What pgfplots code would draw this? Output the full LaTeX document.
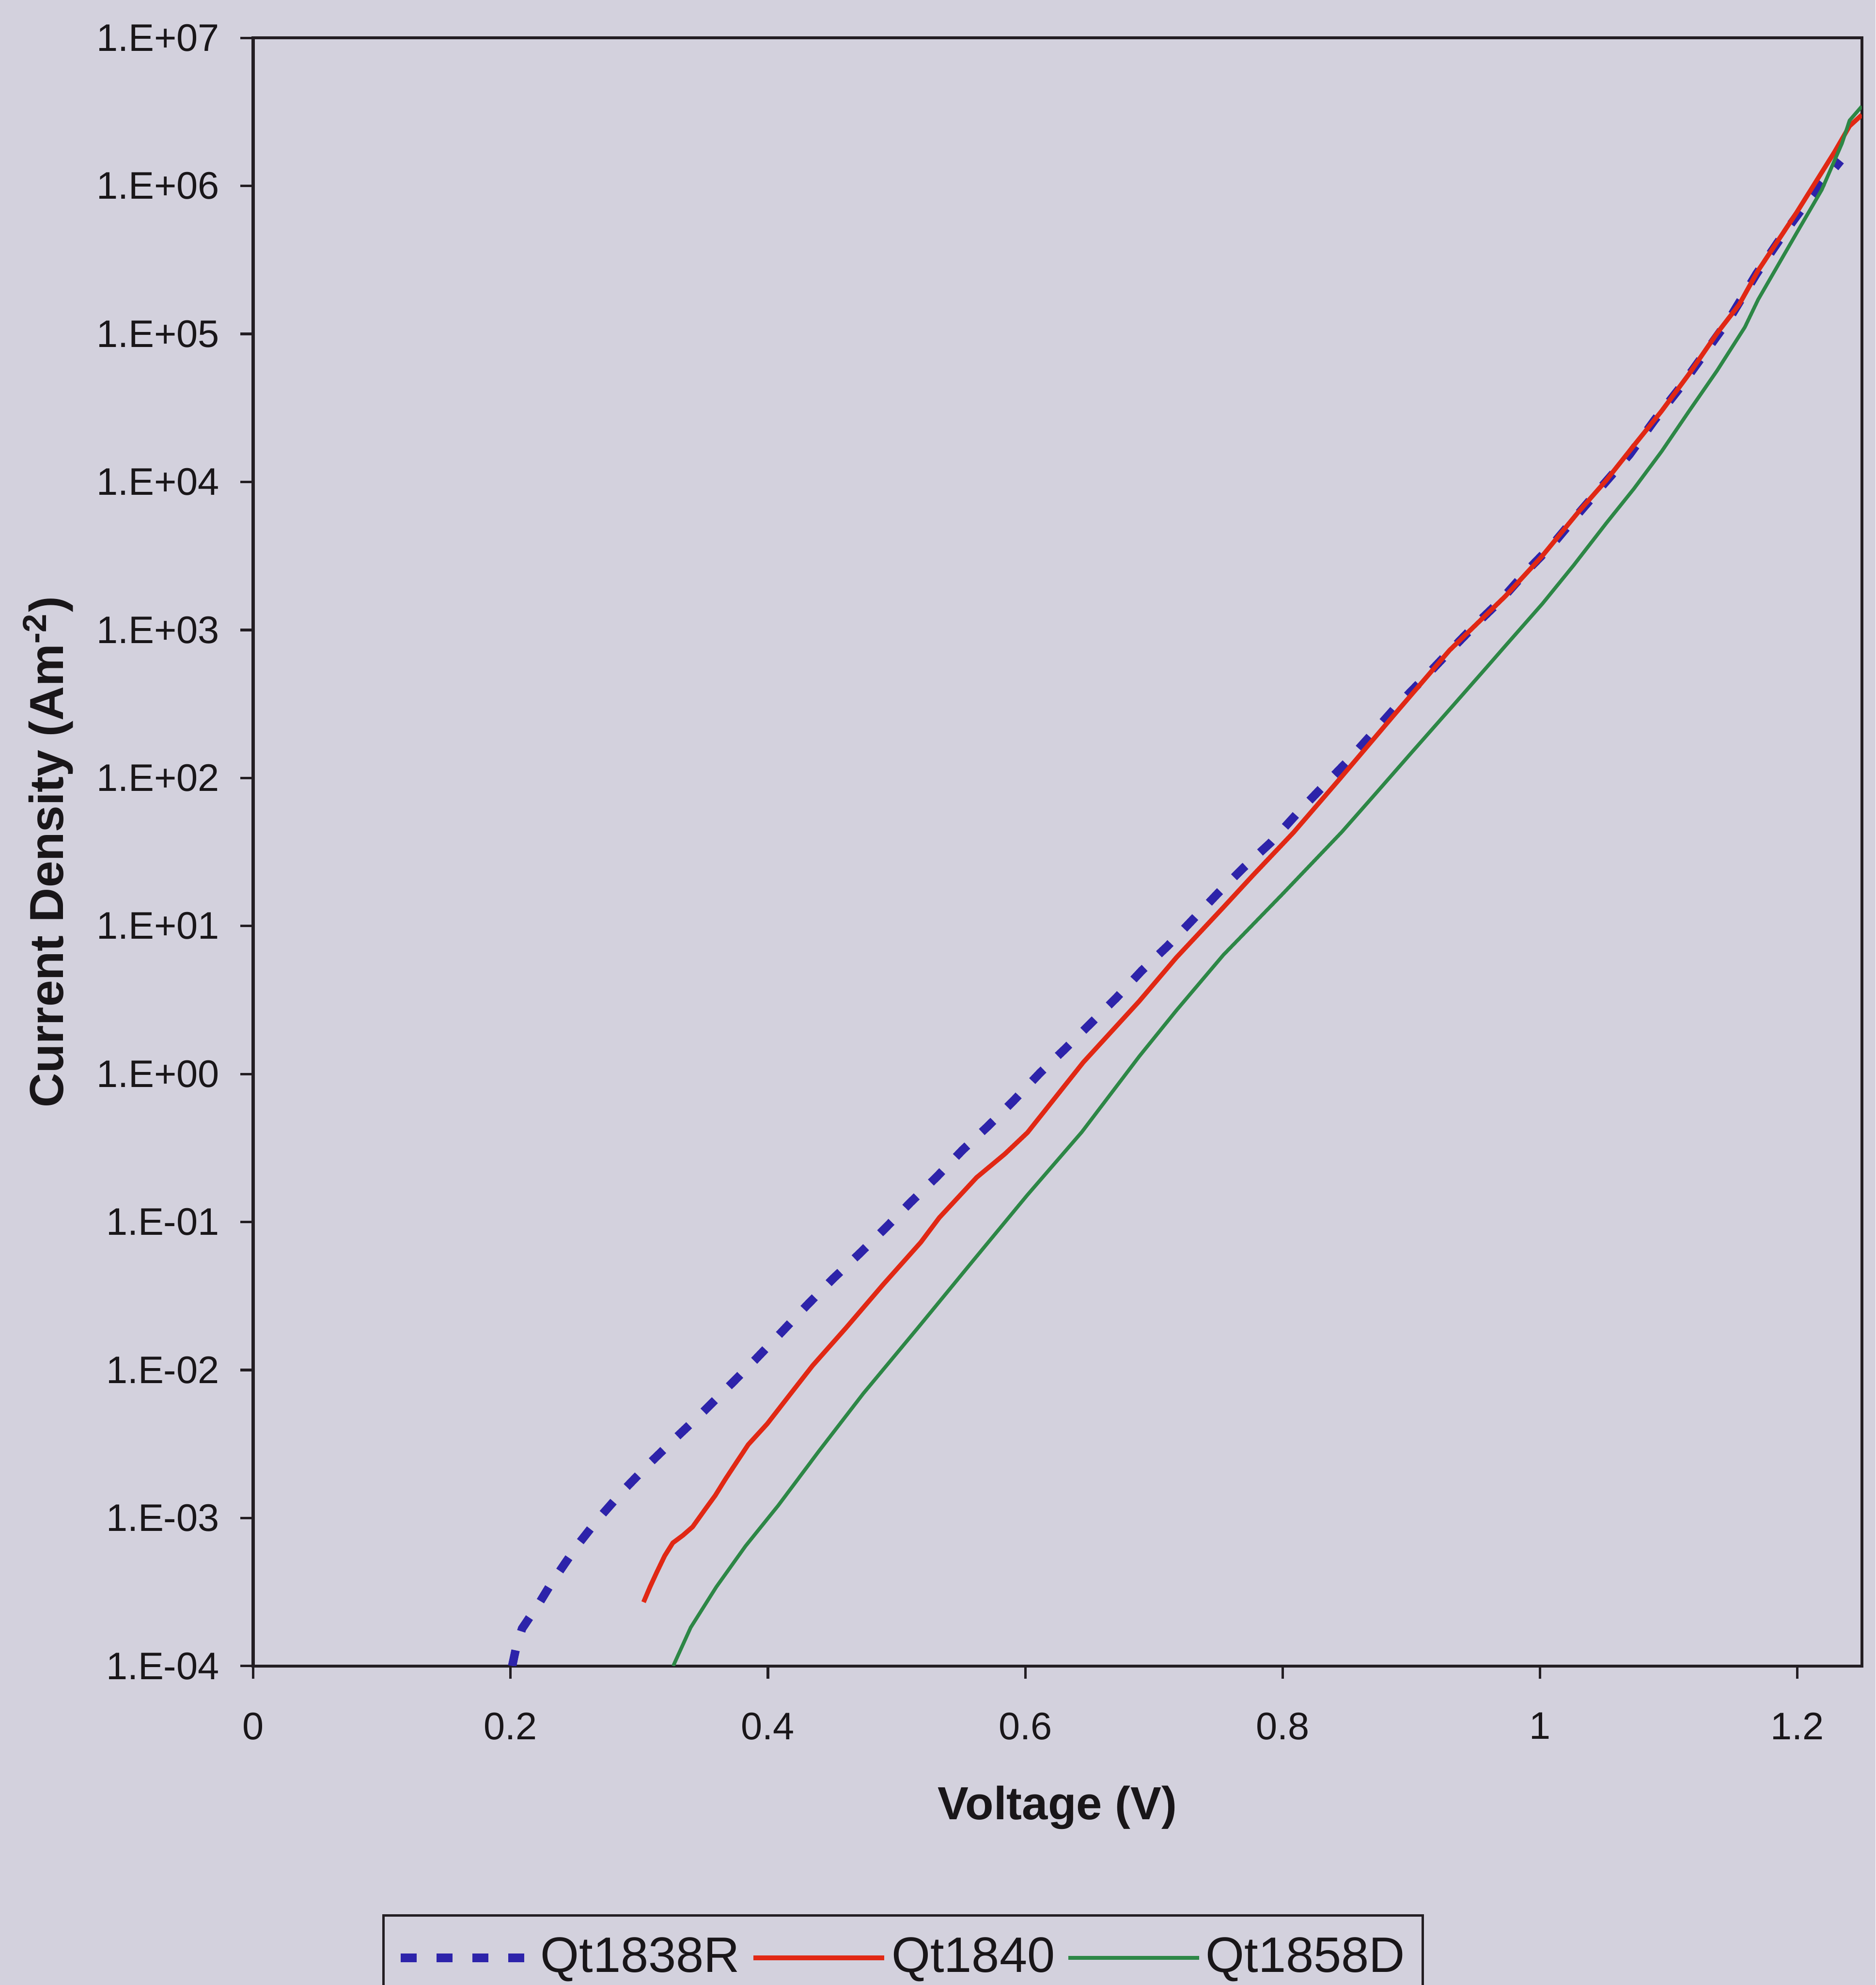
\documentclass[border=0pt]{standalone}
\usepackage{fontspec}
\setmainfont{Liberation Sans}
\usepackage{pgfplots}
\usepackage{pgfplotstable}
\pgfplotsset{compat=1.18}
\definecolor{bg}{RGB}{211,209,221}
\definecolor{cblue}{RGB}{45,35,170}
\definecolor{cred}{RGB}{225,40,20}
\definecolor{cgreen}{RGB}{45,135,70}
\definecolor{axcol}{RGB}{35,30,35}
\definecolor{txt}{RGB}{25,22,25}

\pgfplotstableread{
V J
0.2013 1.00e-4
0.2045 1.35e-4
0.2090 1.79e-4
0.2230 2.72e-4
0.2310 3.54e-4
0.2424 4.95e-4
0.2524 6.61e-4
0.2678 9.77e-4
0.2881 1.55e-3
0.3087 2.37e-3
0.3289 3.51e-3
0.3495 5.19e-3
0.3737 8.41e-3
0.3896 1.16e-2
0.4106 1.80e-2
0.4302 2.73e-2
0.4504 4.12e-2
0.4709 6.08e-2
0.4910 9.04e-2
0.5106 0.135
0.5310 0.201
0.5512 0.306
0.5708 0.442
0.5904 0.653
0.6116 1.02
0.6303 1.46
0.6507 2.19
0.6708 3.27
0.6904 4.98
0.7105 7.31
0.7300 11.0
0.7496 16.6
0.7697 24.8
0.7907 36.6
0.8108 57.0
0.8294 84.1
0.8498 128
0.8698 200
0.8885 305
0.9088 462
0.9289 706
0.9492 1072
0.9693 1581
0.9893 2483
1.0097 3776
1.0285 5929
1.0480 9333
1.0695 1.53e4
1.0890 2.62e4
1.1084 4.30e4
1.1278 7.38e4
1.1472 1.27e5
1.1682 2.55e5
1.1880 4.58e5
1.2079 7.89e5
1.2335 1.48e6
}\qtA

\pgfplotstableread{
V J
0.3034 2.70e-4
0.3085 3.44e-4
0.3136 4.29e-4
0.3198 5.55e-4
0.3261 6.79e-4
0.3340 7.64e-4
0.3415 8.71e-4
0.3511 1.14e-3
0.3591 1.42e-3
0.3668 1.82e-3
0.3745 2.30e-3
0.3847 3.13e-3
0.3995 4.33e-3
0.4174 6.87e-3
0.4347 1.07e-2
0.4608 1.93e-2
0.4898 3.80e-2
0.5188 7.29e-2
0.5332 0.107
0.5622 0.200
0.5841 0.288
0.6017 0.402
0.6451 1.20
0.6885 3.10
0.7174 6.12
0.7537 13.3
0.7769 22.0
0.8084 42.8
0.8429 95.3
0.8863 265
0.9296 728
0.9729 1687
1.0017 3162
1.0294 6209
1.0512 1.02e4
1.0726 1.75e4
1.0944 3.01e4
1.1158 5.37e4
1.1375 1.01e5
1.1547 1.58e5
1.1693 2.67e5
1.1991 6.56e5
1.2287 1.69e6
1.2405 2.54e6
1.2500 3.02e6
}\qtB

\pgfplotstableread{
V J
0.3264 1.00e-4
0.3400 1.82e-4
0.3599 3.42e-4
0.3826 6.46e-4
0.4082 1.22e-3
0.4395 2.82e-3
0.4741 6.93e-3
0.5162 1.91e-2
0.5587 5.38e-2
0.6013 0.151
0.6439 0.405
0.6887 1.32
0.7176 2.70
0.7539 6.37
0.7998 16.4
0.8460 43.2
0.8720 78.0
0.9009 151
0.9298 291
0.9587 562
0.9731 782
1.0019 1507
1.0262 2742
1.0514 5260
1.0728 8974
1.0945 1.61e4
1.1160 3.03e4
1.1376 5.66e4
1.1591 1.11e5
1.1695 1.71e5
1.1993 4.80e5
1.2189 9.42e5
1.2346 1.94e6
1.2405 2.77e6
1.2500 3.45e6
}\qtC

\begin{document}
\begin{tikzpicture}
\fill[bg] (-60pt,-75.6pt) rectangle (384.6pt,394.8pt);
\useasboundingbox (-60pt,-75.6pt) rectangle (384.6pt,394.8pt);
\begin{axis}[
  at={(0pt,0pt)}, anchor=south west,
  scale only axis,
  width=381.3pt, height=385.8pt,
  xmin=0, xmax=1.25,
  ymode=log, ymin=1e-4, ymax=1e7,
  xtick={0,0.2,0.4,0.6,0.8,1,1.2},
  ytick={1e-4,1e-3,1e-2,1e-1,1,1e1,1e2,1e3,1e4,1e5,1e6,1e7},
  yticklabels={1.E-04,1.E-03,1.E-02,1.E-01,1.E+00,1.E+01,1.E+02,1.E+03,1.E+04,1.E+05,1.E+06,1.E+07},
  yminorticks=false, xminorticks=false,
  tick align=outside, tick pos=left,
  major tick length=3pt,
  tick style={axcol, line width=0.6pt},
  axis line style={axcol, line width=0.7pt},
  /pgf/number format/assume math mode=true,
  ticklabel style={font=\fontsize{9.1}{11}\selectfont, text=txt},
  x tick label style={yshift=-4.5pt},
  y tick label style={xshift=-1.5pt},
  xlabel={\bfseries Voltage (V)},
  ylabel={\bfseries Current Density (Am\textsuperscript{-2})},
  xlabel style={font=\fontsize{11}{13}\selectfont, text=txt,
    at={(axis description cs:0.5,0)}, anchor=center, yshift=-33.6pt},
  ylabel style={font=\fontsize{11.3}{13}\selectfont, text=txt,
    at={(axis description cs:0,0.5)}, anchor=center, yshift=48.6pt},
  legend columns=3,
  legend style={at={(0.0803,-0.1524)}, anchor=north west,
    draw=axcol, fill=bg, line width=0.6pt, text=txt,
    font=\fontsize{11.8}{14}\selectfont,
    inner xsep=3pt, inner ysep=4pt,
    nodes={inner sep=1.2pt},
    /tikz/every even column/.append style={column sep=1.5pt}},
  legend image code/.code={\draw[#1] (0pt,0pt) -- (31pt,0pt);},
  no markers,
]
\addplot[cblue, line width=2pt, dash pattern=on 3.8pt off 4.7pt] table[x=V,y=J] {\qtA};
\addlegendentry{Qt1838R}
\addplot[cred, line width=1.1pt, line join=round] table[x=V,y=J] {\qtB};
\addlegendentry{Qt1840}
\addplot[cgreen, line width=0.85pt, line join=round] table[x=V,y=J] {\qtC};
\addlegendentry{Qt1858D}
\end{axis}
\end{tikzpicture}
\end{document}
